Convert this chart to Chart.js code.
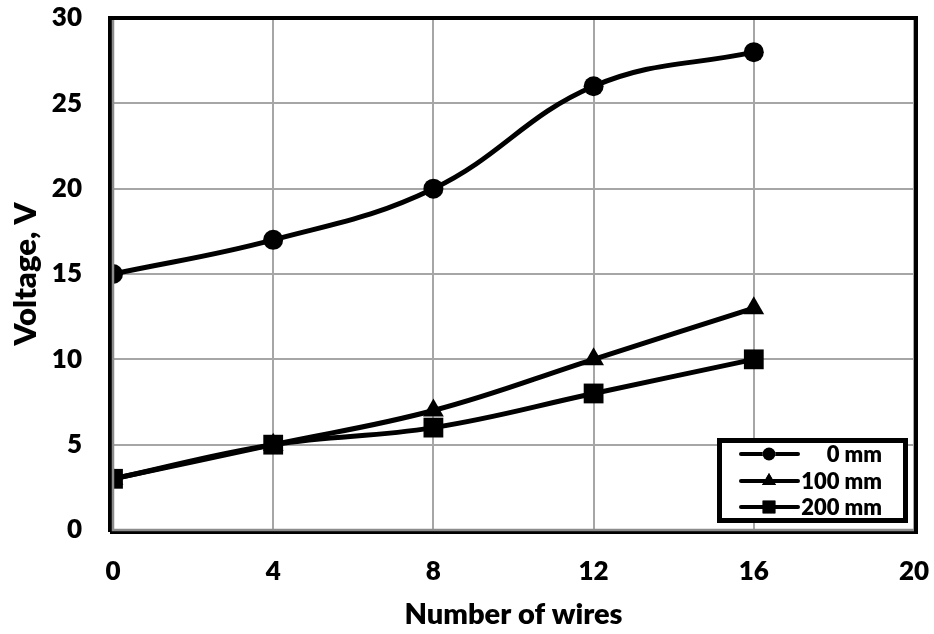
<!DOCTYPE html>
<html>
<head>
<meta charset="utf-8">
<script src="https://cdn.jsdelivr.net/npm/chart.js@4"></script>
<style>
  html, body { margin: 0; padding: 0; background: #ffffff; }
  #wrap { width: 934px; height: 634px; }
</style>
</head>
<body>
<div id="wrap"><canvas id="c" width="934" height="634"></canvas></div>
<script>
// Number of wires vs. measured voltage at three distances
const wires = [0, 4, 8, 12, 16];
const seriesNames = ['0 mm', '100 mm', '200 mm'];
const volts0mm = [15, 17, 20, 26, 28];
const volts100mm = [3, 5, 7, 10, 13];
const volts200mm = [3, 5, 6, 8, 10];
const xTicks = [0, 4, 8, 12, 16, 20];
const yTicks = [0, 5, 10, 15, 20, 25, 30];

const FONT = 'Lato, "Open Sans", sans-serif';
const WEIGHT = 800;
const markerStyles = ['circle', 'triangle', 'rect'];
const markerRadii = [10, 12, 14];
const legendRadii = [6.5, 8, 9];

function toPoints(vals) {
  return wires.map((w, i) => ({ x: w, y: vals[i] }));
}

const datasets = [volts0mm, volts100mm, volts200mm].map((vals, i) => ({
  label: seriesNames[i],
  data: toPoints(vals),
  borderColor: '#000000',
  backgroundColor: '#000000',
  borderWidth: 5,
  tension: 0.4,
  pointStyle: markerStyles[i],
  pointRadius: markerRadii[i],
  pointBackgroundColor: '#000000',
  pointBorderColor: '#000000',
  pointBorderWidth: 0,
  order: 2 - i
}));

// Frame around the plot area plus the in-plot legend box
const framePlugin = {
  id: 'frameAndLegend',
  afterDraw(chart) {
    const { ctx, chartArea: a } = chart;
    ctx.save();
    // black outer frame
    ctx.strokeStyle = '#000000';
    ctx.lineWidth = 4;
    ctx.beginPath();
    ctx.moveTo(a.left - 3, a.bottom + 2);
    ctx.lineTo(a.left - 3, a.top);
    ctx.lineTo(a.right + 2, a.top);
    ctx.lineTo(a.right + 2, a.bottom + 2);
    ctx.lineTo(a.left - 3, a.bottom + 2);
    ctx.stroke();
    // gray axis lines on the inner side
    ctx.strokeStyle = '#8c8c8c';
    ctx.lineWidth = 2.5;
    ctx.beginPath();
    ctx.moveTo(a.left, a.top + 2);
    ctx.lineTo(a.left, a.bottom);
    ctx.lineTo(a.right, a.bottom);
    ctx.stroke();

    // legend box
    const bx = a.right - 197, by = a.bottom - 92, bw = 191, bh = 85;
    ctx.fillStyle = '#ffffff';
    ctx.fillRect(bx, by, bw, bh);
    ctx.strokeStyle = '#000000';
    ctx.lineWidth = 5;
    ctx.strokeRect(bx + 2.5, by + 2.5, bw - 5, bh - 5);

    const rowY = [by + 16, by + 43, by + 69];
    const lx0 = bx + 24, lx1 = bx + 81, mx = bx + 52;
    ctx.font = WEIGHT + ' 22px ' + FONT;
    ctx.textAlign = 'right';
    ctx.textBaseline = 'middle';
    datasets.forEach((ds, i) => {
      const y = rowY[i];
      ctx.strokeStyle = '#000000';
      ctx.lineWidth = 4;
      ctx.lineCap = 'round';
      ctx.beginPath();
      ctx.moveTo(lx0, y);
      ctx.lineTo(lx1, y);
      ctx.stroke();
      Chart.helpers.drawPoint(ctx, {
        pointStyle: ds.pointStyle,
        radius: legendRadii[i],
        rotation: 0,
        borderWidth: 0
      }, mx, y);
      ctx.fillStyle = '#000000';
      ctx.fill();
      ctx.fillText(ds.label, bx + 165, y + 1);
    });
    ctx.restore();
  }
};

new Chart(document.getElementById('c'), {
  type: 'line',
  data: { datasets },
  options: {
    responsive: false,
    animation: false,
    events: [],
    layout: { padding: { top: 18, right: 20, left: 0, bottom: 0 } },
    plugins: { legend: { display: false }, tooltip: { enabled: false } },
    scales: {
      x: {
        type: 'linear',
        min: 0,
        max: 20,
        afterBuildTicks(scale) { scale.ticks = xTicks.map(v => ({ value: v })); },
        afterFit(scale) {
          scale.height = 104;
          scale.paddingLeft = 0; scale.paddingRight = 0;
          scale.paddingTop = 0; scale.paddingBottom = 0;
        },
        grid: { color: '#a6a6a6', lineWidth: 2, drawTicks: false },
        border: { display: false },
        ticks: {
          color: '#000000',
          padding: 26,
          font: { family: FONT, size: 26, weight: WEIGHT }
        },
        title: {
          display: true,
          text: 'Number of wires',
          color: '#000000',
          padding: { top: 0, bottom: 2 },
          font: { family: FONT, size: 29, weight: WEIGHT }
        }
      },
      y: {
        type: 'linear',
        min: 0,
        max: 30,
        afterBuildTicks(scale) { scale.ticks = yTicks.map(v => ({ value: v })); },
        afterFit(scale) {
          scale.width = 113;
          scale.paddingLeft = 0; scale.paddingRight = 0;
          scale.paddingTop = 0; scale.paddingBottom = 0;
        },
        grid: { color: '#a6a6a6', lineWidth: 2, drawTicks: false },
        border: { display: false },
        ticks: {
          color: '#000000',
          padding: 31,
          font: { family: FONT, size: 26, weight: WEIGHT }
        },
        title: {
          display: true,
          text: 'Voltage, V',
          color: '#000000',
          padding: { top: 7, bottom: 0 },
          font: { family: FONT, size: 31, weight: WEIGHT }
        }
      }
    }
  },
  plugins: [framePlugin]
});
</script>
</body>
</html>
